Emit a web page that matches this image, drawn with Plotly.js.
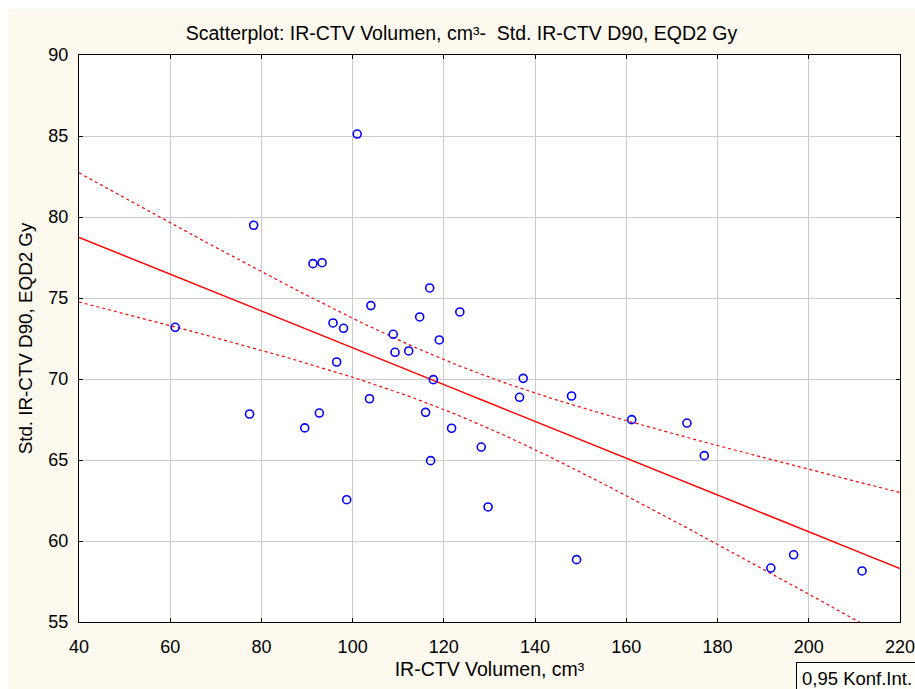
<!DOCTYPE html>
<html>
<head>
<meta charset="utf-8">
<script src="https://cdn.plot.ly/plotly-3.0.1.min.js"></script>
<style>
html,body{margin:0;padding:0;background:#ffffff;width:915px;height:689px;overflow:hidden;}
#chart{position:absolute;left:8px;top:9px;width:907px;height:680px;}
</style>
</head>
<body>
<div id="chart"></div>
<script>
// IR-CTV Volumen, cm³
const volumen = [61.1, 77.4, 78.3, 89.5, 91.3, 92.7, 93.3, 95.7, 96.5, 98.0,
                 98.7, 101.0, 103.7, 104.0, 108.9, 109.3, 112.3, 114.7, 116.0, 116.9,
                 117.1, 117.7, 119.0, 121.7, 123.5, 128.2, 129.7, 136.6, 137.4, 148.0,
                 149.1, 161.2, 173.3, 177.1, 191.7, 196.7, 211.7];
// Std. IR-CTV D90, EQD2 Gy
const d90 = [73.19, 67.84, 79.49, 66.98, 77.12, 67.90, 77.18, 73.46, 71.05, 73.13,
             62.55, 85.12, 68.78, 74.53, 72.76, 71.65, 71.73, 73.83, 67.94, 75.62,
             64.96, 69.96, 72.41, 66.96, 74.14, 65.80, 62.10, 68.87, 70.04, 68.95,
             58.85, 67.49, 67.28, 65.27, 58.33, 59.15, 58.15];
const xTicks = [40, 60, 80, 100, 120, 140, 160, 180, 200, 220];
const yTicks = [55, 60, 65, 70, 75, 80, 85, 90];
const tCrit = 2.0301; // t(0.975, df=35)

// least squares fit and 95% confidence band for the mean
const n = volumen.length;
const mx = volumen.reduce((a, b) => a + b, 0) / n;
const my = d90.reduce((a, b) => a + b, 0) / n;
let sxx = 0, sxy = 0;
for (let i = 0; i < n; i++) { sxx += (volumen[i] - mx) ** 2; sxy += (volumen[i] - mx) * (d90[i] - my); }
const slope = sxy / sxx, icpt = my - slope * mx;
let sse = 0;
for (let i = 0; i < n; i++) { sse += (d90[i] - (icpt + slope * volumen[i])) ** 2; }
const s = Math.sqrt(sse / (n - 2));
const gx = [], gy = [], gu = [], gl = [];
for (let k = 0; k <= 180; k++) {
  const x = 40 + k;
  const yh = icpt + slope * x;
  const h = tCrit * s * Math.sqrt(1 / n + (x - mx) ** 2 / sxx);
  gx.push(x); gy.push(yh); gu.push(yh + h); gl.push(yh - h);
}

const font = 'Liberation Sans, Arial, sans-serif';
const traces = [
  {x: gx, y: gu, mode: 'lines', line: {color: '#ff0000', width: 1.2, dash: '3px,3px'}, hoverinfo: 'skip'},
  {x: gx, y: gl, mode: 'lines', line: {color: '#ff0000', width: 1.2, dash: '3px,3px'}, hoverinfo: 'skip'},
  {x: gx, y: gy, mode: 'lines', line: {color: '#ff0000', width: 1.5}, hoverinfo: 'skip'},
  {x: volumen, y: d90, mode: 'markers',
   marker: {symbol: 'circle-open', size: 8, color: '#0000ff', line: {width: 1.6, color: '#0000ff'}}}
];

const axisCommon = {
  showline: true, mirror: 'ticks', linecolor: '#000000', linewidth: 1,
  ticks: 'inside', ticklen: 4, tickcolor: '#000000', tickwidth: 1,
  showgrid: true, gridcolor: '#cccccc', gridwidth: 1, zeroline: false,
  tickfont: {family: font, size: 18, color: '#000000'}
};

const layout = {
  width: 907, height: 680,
  margin: {l: 71, r: 15, t: 46, b: 67},
  paper_bgcolor: '#fdf9ee', plot_bgcolor: '#ffffff',
  showlegend: false,
  title: {text: 'Scatterplot: IR-CTV Volumen, cm³-  Std. IR-CTV D90, EQD2 Gy',
          font: {family: font, size: 19.5, color: '#000000'},
          x: 0.5, xref: 'container', y: 0.965, yref: 'container', yanchor: 'middle'},
  xaxis: Object.assign({}, axisCommon, {
    range: [40, 220.02], tickvals: xTicks, ticktext: xTicks.map(String), ticklabelstandoff: 8,
    title: {text: 'IR-CTV Volumen, cm³', font: {family: font, size: 19.5, color: '#000000'}, standoff: 6}
  }),
  yaxis: Object.assign({}, axisCommon, {
    range: [55, 90], tickvals: yTicks, ticktext: yTicks.map(String), ticklabelstandoff: 6,
    title: {text: 'Std. IR-CTV D90, EQD2 Gy', font: {family: font, size: 18.8, color: '#000000'}, standoff: 10}
  }),
  annotations: [{
    text: '0,95 Konf.Int.', xref: 'paper', yref: 'paper', x: 0.873, y: -0.07,
    xanchor: 'left', yanchor: 'top', showarrow: false, align: 'left',
    font: {family: font, size: 18.5, color: '#000000'},
    bordercolor: '#000000', borderwidth: 1, borderpad: 5, bgcolor: '#fffdf8'
  }]
};

Plotly.newPlot('chart', traces, layout, {displayModeBar: false, staticPlot: true});
</script>
</body>
</html>
